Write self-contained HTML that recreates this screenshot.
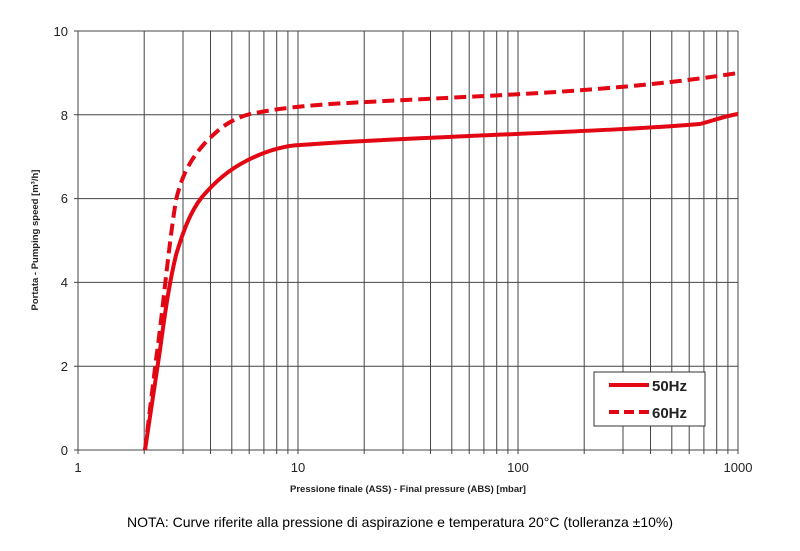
<!DOCTYPE html>
<html><head><meta charset="utf-8"><style>
body{margin:0;background:#fff;width:800px;height:546px;overflow:hidden}
text{font-family:"Liberation Sans",Arial,sans-serif}
</style></head><body>
<svg width="800" height="546" xmlns="http://www.w3.org/2000/svg">
<g stroke="#444" stroke-width="1" fill="none">
<path d="M78,31V454M144.2,31V454M183,31V454M210.5,31V454M231.8,31V454M249.2,31V454M263.9,31V454M276.7,31V454M287.9,31V454
M298,31V454M364.2,31V454M403,31V454M430.5,31V454M451.8,31V454M469.2,31V454M483.9,31V454M496.7,31V454M507.9,31V454
M518,31V454M584.2,31V454M623,31V454M650.5,31V454M671.8,31V454M689.2,31V454M703.9,31V454M716.7,31V454M727.9,31V454M738,31V454
M74,31H738M74,114.8H738M74,198.6H738M74,282.4H738M74,366.2H738M74,450H738"/>
</g>
<g font-size="13" fill="#222" text-anchor="end">
<text x="68" y="36">10</text><text x="68" y="120">8</text><text x="68" y="203">6</text><text x="68" y="287">4</text><text x="68" y="371">2</text><text x="68" y="455">0</text>
</g>
<g font-size="13" fill="#222" text-anchor="middle">
<text x="78" y="472">1</text><text x="298" y="472">10</text><text x="518" y="472">100</text><text x="738" y="472">1000</text>
</g>
<text x="408" y="492" font-size="9.5" font-weight="bold" text-anchor="middle" fill="#222">Pressione finale (ASS) - Final pressure (ABS) [mbar]</text>
<text transform="translate(38,240) rotate(-90)" font-size="9.5" font-weight="bold" text-anchor="middle" fill="#222">Portata - Pumping speed [m³/h]</text>
<path d="M145,450 L160,350 C166,305 170,280 176,255 C183,232 190,212 202,197 C215,182 228,170 248,160 C262,153 280,146 300,145 C340,142 400,139 470,136 C560,132 640,129 700,124 C715,120 725,116 738,114" stroke="#e30613" stroke-width="4" fill="none"/>
<path d="M145,450 L156,360 C163,310 168,250 176,200 C182,175 190,160 205,143 C218,130 228,120 250,114 C270,110 290,107 330,104 C400,100 470,97 540,93 C620,88 680,82 738,73" stroke="#e30613" stroke-width="4" fill="none" stroke-dasharray="12,6"/>
<rect x="594" y="372" width="111" height="54" fill="#fff" stroke="#333"/>
<line x1="609" y1="385" x2="649" y2="385" stroke="#e30613" stroke-width="4"/>
<line x1="609" y1="412" x2="649" y2="412" stroke="#e30613" stroke-width="4" stroke-dasharray="10,5"/>
<text x="652" y="391" font-size="15" font-weight="bold" fill="#222">50Hz</text>
<text x="652" y="418" font-size="15" font-weight="bold" fill="#222">60Hz</text>
<text x="400" y="527" font-size="14" text-anchor="middle" fill="#000">NOTA:  Curve riferite alla pressione di aspirazione e temperatura 20°C (tolleranza ±10%)</text>
</svg>
</body></html>
